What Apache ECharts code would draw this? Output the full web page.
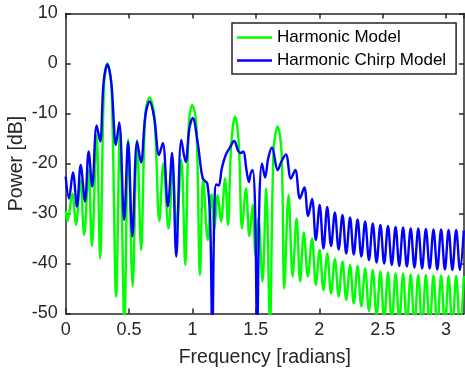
<!DOCTYPE html>
<html><head><meta charset="utf-8">
<script src="https://cdn.jsdelivr.net/npm/echarts/dist/echarts.min.js"></script>
<style>html,body{margin:0;padding:0;background:#fff}#c{width:465px;height:371px}</style>
</head><body><div id="c"></div>
<script>
const xTickLabels = ['0','0.5','1','1.5','2','2.5','3'];
const yTickLabels = ['-50','-40','-30','-20','-10','0','10'];
const seriesNames = ['Harmonic Model','Harmonic Chirp Model'];

const greenFreq = [0,0.014,0.052,0.081,0.115,0.146,0.180,0.207,0.244,0.272,0.302,0.329,0.361,0.398,0.428,0.463,0.493,0.528,0.563,0.595,0.628,0.662,0.699,0.739,0.770,0.811,0.845,0.874,0.912,0.943,0.971,0.998,1.030,1.059,1.085,1.120,1.150,1.172,1.199,1.225,1.257,1.280,1.306,1.337,1.365,1.391,1.422,1.449,1.475,1.497,1.520,1.552,1.581,1.611,1.640,1.672,1.703,1.724,1.758,1.790,1.821,1.849,1.878,1.910,1.943,
1.973,2.003,2.033,2.063,2.093,2.123,2.153,2.183,2.213,2.243,2.272,2.302,2.332,2.362,2.392,2.422,2.452,2.482,2.512,2.542,2.572,2.602,2.631,2.661,2.691,2.721,2.751,2.781,2.811,2.841,2.871,2.901,2.931,2.961,2.991,3.020,3.050,3.080,3.110,3.140];
const greenPower = [-29.5,-31.5,-26,-32.3,-23.3,-34.3,-21.3,-36.5,-14.3,-39,-4.5,0,-4.5,-46.6,-13.3,-52,-15.2,-44.6,-15.3,-37.3,-10,-6.8,-10.5,-31.5,-20,-33,-21.2,-33,-19.3,-40.3,-12,-8.3,-12,-42.3,-22.8,-35.3,-26.2,-33,-26.3,-31.6,-23,-32.3,-16,-10.6,-16,-33,-25,-34.6,-28.3,-38.3,-31,-43.6,-25,-52,-17,-12.6,-18,-45,-26.3,-42.6,-31,-43.6,-33.8,-42.6,-35,
-44.3,-37.3,-45.3,-38,-46,-39.1,-46.6,-39.6,-47.3,-40.3,-48,-40.5,-48.6,-41,-49.5,-41.3,-50.5,-41.6,-51.5,-41.8,-52,-42,-52,-42,-52.5,-42.2,-52.5,-42.3,-53,-42.3,-53,-42.4,-53,-42.4,-53,-42.5,-53,-42.5,-53,-42.5];

const blueFreq = [0,0.026,0.057,0.089,0.118,0.152,0.181,0.209,0.244,0.272,0.298,0.329,0.361,0.396,0.422,0.461,0.492,0.526,0.563,0.594,0.628,0.662,0.699,0.736,0.766,0.806,0.839,0.872,0.912,0.946,0.975,1.002,1.042,1.081,1.117,1.140,1.156,1.172,1.187,1.207,1.231,1.262,1.291,1.329,1.361,1.380,1.402,1.424,1.445,1.459,1.475,1.493,1.510,1.528,1.548,1.573,1.597,1.627,1.672,1.703,1.737,1.776,1.811,1.847,1.882,1.912,1.943,
1.973,2.003,2.033,2.063,2.093,2.123,2.153,2.183,2.213,2.243,2.272,2.302,2.332,2.362,2.392,2.422,2.452,2.482,2.512,2.542,2.572,2.602,2.631,2.661,2.691,2.721,2.751,2.781,2.811,2.841,2.871,2.901,2.931,2.961,2.991,3.020,3.050,3.080,3.110,3.140];
const bluePower = [-22.6,-27,-21.8,-28.6,-20.3,-27.6,-17.6,-24.6,-12.4,-15.6,-4,-0.2,-4.2,-16.3,-11.8,-31.3,-15.7,-34.6,-15.6,-19.8,-10.5,-7.6,-11,-18.3,-15.9,-28.6,-17.9,-38.6,-15.3,-19.7,-13,-10.9,-16,-23,-24,-32,-55,-30,-24.2,-24.4,-21,-18.3,-17,-15.5,-17.5,-17.9,-17.6,-21,-23.7,-22,-21.3,-28,-55,-27,-20,-22.8,-19,-16.8,-21.3,-19.5,-18.2,-23,-21.3,-27,-24.8,-30.5,-27.1,
-35.3,-28.3,-37,-28.7,-36.5,-29.8,-37.2,-30.3,-38,-30.8,-38.2,-31.2,-38.6,-31.6,-39.3,-32,-39.8,-32.3,-40,-32.5,-40.3,-32.7,-40.5,-32.8,-40.6,-33,-40.8,-33,-41,-33.1,-41,-33.2,-41.2,-33.2,-41.2,-33.3,-41.3,-33.3,-41.3,-33.4];

const font = "'Liberation Sans', Arial, Helvetica, sans-serif";
const axisColor = '#262626';
const zip = (xs, ys) => xs.map((x, i) => [x, ys[i]]);

const chart = echarts.init(document.getElementById('c'));
const xLabel = v => { const i = Math.round(v / 0.5); return Math.abs(v - i * 0.5) < 1e-6 && xTickLabels[i] !== undefined ? xTickLabels[i] : ''; };
const yLabel = v => { const i = Math.round((v + 50) / 10); return yTickLabels[i] !== undefined ? yTickLabels[i] : ''; };
const axLine = {onZero: false, lineStyle: {color: axisColor, width: 1.5}};
const axTick = {inside: true, length: 5, lineStyle: {color: axisColor, width: 1.5}};

chart.setOption({
  animation: false,
  backgroundColor: '#fff',
  grid: {left: 65.7, right: 1, top: 13.5, bottom: 57.5, containLabel: false, outerBoundsMode: 'none'},
  legend: {
    left: 232, top: 23, orient: 'vertical',
    backgroundColor: '#fff', borderColor: axisColor, borderWidth: 1.5,
    padding: [6, 10, 5, 5], itemGap: 6, itemWidth: 35, itemHeight: 2.5,
    icon: 'rect',
    textStyle: {fontFamily: font, fontSize: 17, color: '#000'},
    data: seriesNames
  },
  xAxis: [
    {type: 'value', min: 0, max: Math.PI, interval: 0.5, position: 'bottom',
     name: 'Frequency [radians]', nameLocation: 'middle', nameGap: 34.5,
     nameTextStyle: {fontFamily: font, fontSize: 19.5, color: axisColor},
     axisLine: axLine, axisTick: axTick,
     axisLabel: {margin: 8, fontFamily: font, fontSize: 18, color: axisColor, formatter: xLabel, showMaxLabel: false},
     splitLine: {show: false}},
    {type: 'value', min: 0, max: Math.PI, interval: 0.5, position: 'top',
     axisLine: axLine, axisTick: axTick, axisLabel: {show: false}, splitLine: {show: false}}
  ],
  yAxis: [
    {type: 'value', min: -50, max: 10, interval: 10, position: 'left',
     name: 'Power [dB]', nameLocation: 'middle', nameGap: 39, nameMoveOverlap: false,
     nameTextStyle: {fontFamily: font, fontSize: 19.5, color: axisColor},
     axisLine: axLine, axisTick: axTick,
     axisLabel: {margin: 8, fontFamily: font, fontSize: 18, color: axisColor, formatter: yLabel},
     splitLine: {show: false}},
    {type: 'value', min: -50, max: 10, interval: 10, position: 'right',
     axisLine: axLine, axisTick: axTick, axisLabel: {show: false}, splitLine: {show: false}}
  ],
  series: [
    {name: seriesNames[0], type: 'line', symbol: 'none', smooth: 0.35, clip: true,
     lineStyle: {color: '#00ff00', width: 2.4}, itemStyle: {color: '#00ff00'},
     data: zip(greenFreq, greenPower)},
    {name: seriesNames[1], type: 'line', symbol: 'none', smooth: 0.35, clip: true,
     lineStyle: {color: '#0000ff', width: 2.4}, itemStyle: {color: '#0000ff'},
     data: zip(blueFreq, bluePower)}
  ]
});
</script></body></html>
